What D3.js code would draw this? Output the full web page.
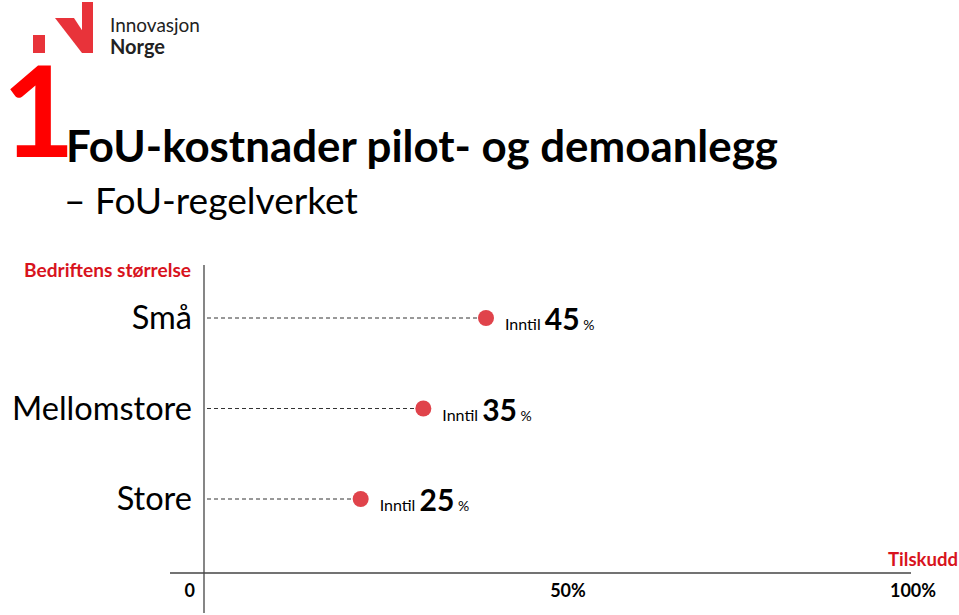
<!DOCTYPE html><html>
<head>
    <meta charset="utf-8">
    <style>
        body { margin: 0; background: #fff; }
        text { font-family: Lato, "Open Sans", sans-serif; }
    </style>
</head>
<body>
    <script src="https://cdn.jsdelivr.net/npm/d3@7"></script>
    <script>
        // data
        var categories = ['Små', 'Mellomstore', 'Store'];
        var values = [45, 35, 25];
        var tickValues = [0, 50, 100];
        var tickLabels = ['0', '50%', '100%'];

        var width = 959, height = 615;
        var red = '#e8333a';

        var svg = d3.select('body').append('svg')
            .attr('width', width)
            .attr('height', height);

        // the slide is not drawn to scale, so the x scale is piecewise
        var x = d3.scaleLinear()
            .domain([0, 45, 50, 100])
            .range([204, 486, 568, 913]);
        var y = d3.scalePoint()
            .domain(categories)
            .range([318, 499]);

        // shrink/grow font so text spans the width seen on the slide
        function fit(sel, w) {
            sel.each(function() {
                var fs = parseFloat(d3.select(this).style('font-size'));
                var len = this.getComputedTextLength();
                d3.select(this).style('font-size', (fs * w / len).toFixed(2) + 'px');
            });
            return sel;
        }

        // logo
        var logo = svg.append('g');
        logo.append('rect').attr('x', 33).attr('y', 35).attr('width', 12).attr('height', 18).attr('fill', red);
        logo.append('path').attr('d', 'M55,18 L74,18 L93,47 L93,53 L82,53 Z').attr('fill', red);
        logo.append('rect').attr('x', 82).attr('y', 2).attr('width', 11).attr('height', 51).attr('fill', red);
        fit(logo.append('text').attr('x', 110).attr('y', 32).style('font-size', '19px')
            .attr('fill', '#222').text('Innovasjon'), 90);
        fit(logo.append('text').attr('x', 110).attr('y', 54).style('font-size', '19px')
            .style('font-weight', 'bold').attr('fill', '#222').text('Norge'), 55);

        // heading
        svg.append('text').attr('x', 2).attr('y', 157)
            .style('font-size', '126px').style('font-weight', 'bold')
            .attr('fill', '#ff0000').text('1');
        fit(svg.append('text').attr('x', 66).attr('y', 162)
            .style('font-size', '44px').style('font-weight', 'bold')
            .attr('fill', '#000').text('FoU-kostnader pilot- og demoanlegg'), 712);
        fit(svg.append('text').attr('x', 64).attr('y', 214)
            .style('font-size', '34px')
            .attr('fill', '#000').text('– FoU-regelverket'), 294);

        // axes
        svg.append('line')
            .attr('x1', x(0)).attr('x2', x(0))
            .attr('y1', 265).attr('y2', 613)
            .attr('stroke', '#444').attr('stroke-width', 1.3);
        svg.append('line')
            .attr('x1', x(0) - 34).attr('x2', x(100) - 2)
            .attr('y1', 573).attr('y2', 573)
            .attr('stroke', '#444').attr('stroke-width', 1.3);

        fit(svg.append('text').attr('x', 191).attr('y', 277)
            .attr('text-anchor', 'end')
            .style('font-size', '16px').style('font-weight', 'bold')
            .attr('fill', '#d8131d').text('Bedriftens størrelse'), 167);
        fit(svg.append('text').attr('x', 958).attr('y', 566)
            .attr('text-anchor', 'end')
            .style('font-size', '18px').style('font-weight', 'bold')
            .attr('fill', '#d8131d').text('Tilskudd'), 70);

        svg.selectAll('.tick-label')
            .data(tickValues)
            .enter().append('text')
            .attr('class', 'tick-label')
            .attr('x', function(d) { return d === 0 ? x(d) - 9 : x(d); })
            .attr('y', 597)
            .attr('text-anchor', function(d) { return d === 0 ? 'end' : 'middle'; })
            .style('font-size', '18px').style('font-weight', 'bold')
            .attr('fill', '#000')
            .text(function(d, i) { return tickLabels[i]; });

        // category labels
        var cat = svg.selectAll('.cat')
            .data(categories)
            .enter().append('text')
            .attr('class', 'cat')
            .attr('x', 192)
            .attr('y', function(d) { return y(d) + 11; })
            .attr('text-anchor', 'end')
            .style('font-size', '32px')
            .attr('fill', '#000')
            .text(function(d) { return d; });
        fit(cat.filter(function(d) { return d === 'Mellomstore'; }), 180);
        cat.style('font-size', cat.filter(function(d) { return d === 'Mellomstore'; }).style('font-size'));

        // dashed leaders and dots
        var rows = svg.selectAll('.row')
            .data(categories)
            .enter().append('g')
            .attr('class', 'row');

        rows.append('line')
            .attr('x1', x(0) + 3)
            .attr('x2', function(d, i) { return x(values[i]) - 8; })
            .attr('y1', function(d) { return y(d); })
            .attr('y2', function(d) { return y(d); })
            .attr('stroke', '#333').attr('stroke-width', 1)
            .attr('stroke-dasharray', '4,3');

        rows.append('circle')
            .attr('cx', function(d, i) { return x(values[i]); })
            .attr('cy', function(d) { return y(d); })
            .attr('r', 8)
            .attr('fill', '#e0434b');

        var lbl = rows.append('text')
            .attr('x', function(d, i) { return x(values[i]) + 19; })
            .attr('y', function(d) { return y(d) + 12; })
            .attr('fill', '#000');
        lbl.append('tspan').style('font-size', '16px').text('Inntil ');
        lbl.append('tspan').style('font-size', '30px').style('font-weight', 'bold')
            .text(function(d, i) { return values[i]; });
        lbl.append('tspan').style('font-size', '14px').text(' %');
    </script>
</body></html>
